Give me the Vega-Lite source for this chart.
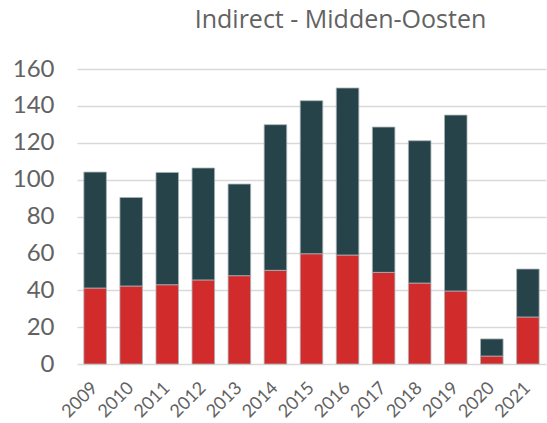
{
  "$schema": "https://vega.github.io/schema/vega-lite/v6.json",
  "autosize": "none",
  "width": 469,
  "height": 295,
  "padding": {"left": 77, "top": 69, "right": 1, "bottom": 59},
  "background": "white",
  "title": {
    "text": "Indirect - Midden-Oosten",
    "font": "Open Sans",
    "fontSize": 25,
    "fontWeight": "normal",
    "color": "#626262",
    "anchor": "middle",
    "frame": "group",
    "dx": 29,
    "offset": 24
  },
  "data": {
    "values": [
      {"jaar": "2009", "reeks": "A", "waarde": 41.2},
      {"jaar": "2009", "reeks": "B", "waarde": 62.9},
      {"jaar": "2010", "reeks": "A", "waarde": 42.3},
      {"jaar": "2010", "reeks": "B", "waarde": 48.0},
      {"jaar": "2011", "reeks": "A", "waarde": 43.0},
      {"jaar": "2011", "reeks": "B", "waarde": 60.9},
      {"jaar": "2012", "reeks": "A", "waarde": 45.6},
      {"jaar": "2012", "reeks": "B", "waarde": 60.7},
      {"jaar": "2013", "reeks": "A", "waarde": 47.9},
      {"jaar": "2013", "reeks": "B", "waarde": 49.7},
      {"jaar": "2014", "reeks": "A", "waarde": 50.8},
      {"jaar": "2014", "reeks": "B", "waarde": 79.0},
      {"jaar": "2015", "reeks": "A", "waarde": 59.8},
      {"jaar": "2015", "reeks": "B", "waarde": 83.0},
      {"jaar": "2016", "reeks": "A", "waarde": 59.1},
      {"jaar": "2016", "reeks": "B", "waarde": 90.6},
      {"jaar": "2017", "reeks": "A", "waarde": 49.7},
      {"jaar": "2017", "reeks": "B", "waarde": 78.8},
      {"jaar": "2018", "reeks": "A", "waarde": 43.9},
      {"jaar": "2018", "reeks": "B", "waarde": 77.2},
      {"jaar": "2019", "reeks": "A", "waarde": 39.6},
      {"jaar": "2019", "reeks": "B", "waarde": 95.4},
      {"jaar": "2020", "reeks": "A", "waarde": 4.3},
      {"jaar": "2020", "reeks": "B", "waarde": 9.3},
      {"jaar": "2021", "reeks": "A", "waarde": 25.5},
      {"jaar": "2021", "reeks": "B", "waarde": 26.0}
    ]
  },
  "mark": {"type": "bar", "stroke": "#a9b3b5", "strokeWidth": 0.8},
  "encoding": {
    "x": {
      "field": "jaar",
      "type": "ordinal",
      "title": null,
      "scale": {"paddingInner": 0.375, "paddingOuter": 0.19},
      "axis": {
        "domain": false,
        "ticks": false,
        "labelAngle": -45,
        "labelAlign": "right",
        "labelBaseline": "middle",
        "labelPadding": 21,
        "labelFont": "Lato",
        "labelFontSize": 18,
        "labelColor": "#626262"
      }
    },
    "y": {
      "field": "waarde",
      "type": "quantitative",
      "stack": "zero",
      "title": null,
      "scale": {"domain": [0, 160], "nice": false},
      "axis": {
        "values": [0, 20, 40, 60, 80, 100, 120, 140, 160],
        "domain": false,
        "ticks": false,
        "grid": true,
        "gridColor": "#d9d9d9",
        "gridWidth": 1.5,
        "labelPadding": 23,
        "labelFont": "Lato",
        "labelFontSize": 24,
        "labelColor": "#626262"
      }
    },
    "color": {
      "field": "reeks",
      "type": "nominal",
      "legend": null,
      "scale": {"domain": ["A", "B"], "range": ["#d22b2b", "#26434a"]}
    },
    "order": {"field": "reeks", "sort": "ascending"}
  },
  "config": {"view": {"stroke": null}}
}
